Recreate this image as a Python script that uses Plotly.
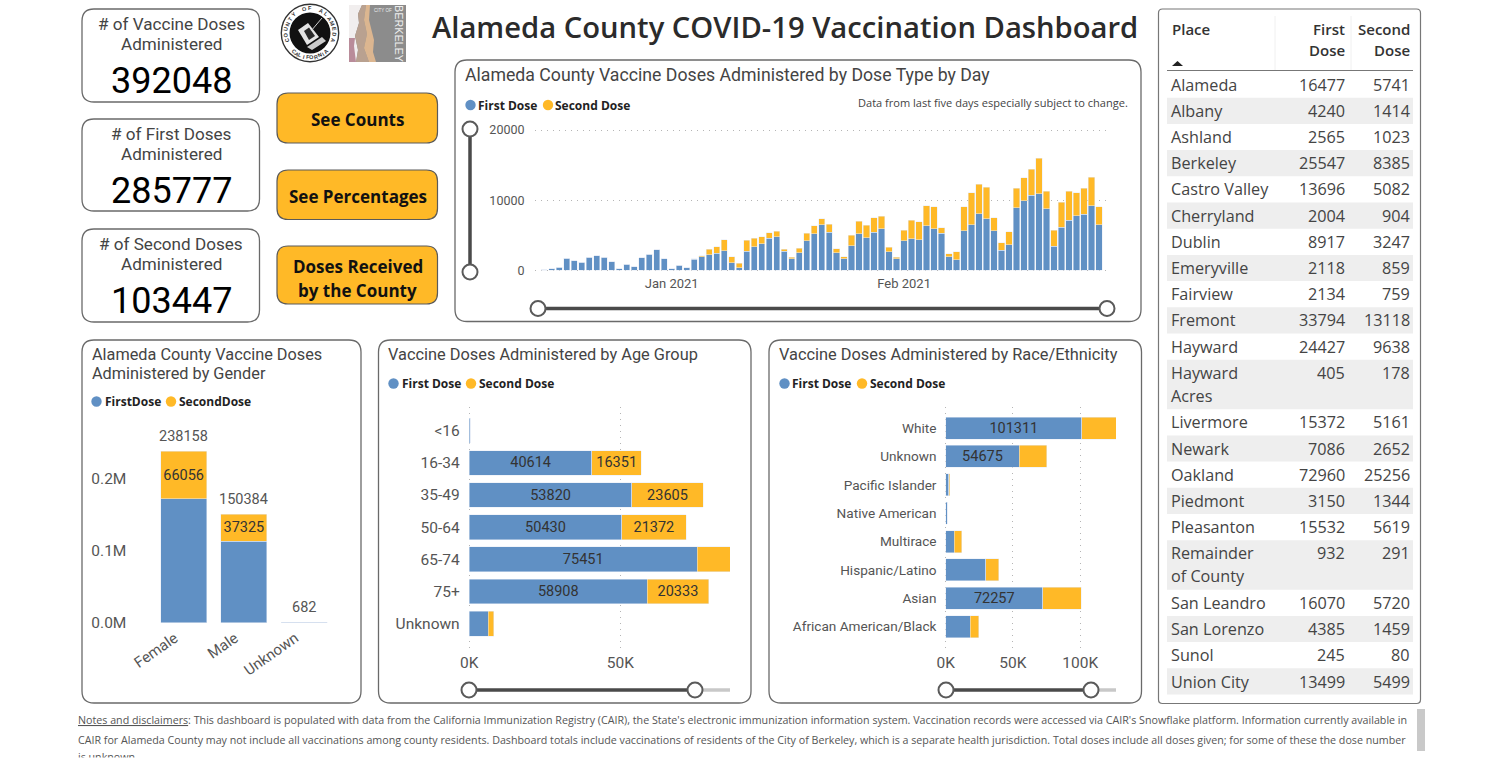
import math
import pandas as pd
import plotly.graph_objects as go

W, H = 1501, 763
BLUE, ORANGE = "#6090C4", "#FFB927"
DIN, SEGOE = "Roboto", "Open Sans"

# ---------- data ----------
kpi_titles = [("# of Vaccine Doses", "Administered"), ("# of First Doses", "Administered"), ("# of Second Doses", "Administered")]
kpi_values = ["392048", "285777", "103447"]

days = pd.date_range("2020-12-15", periods=75).strftime("%Y-%m-%d").tolist()
daily_first = [100, 190, 430, 1710, 1380, 1140, 1850, 2040, 1850, 1190,
               190, 855, 475, 1760, 2280, 2900, 1660, 190, 710, 330,
               1570, 1900, 2230, 2420, 2800, 1090, 380, 2700, 3325, 3750,
               4560, 4800, 2750, 1660, 2520, 4180, 5225, 6500, 5460, 2470,
               1660, 3470, 5225, 4655, 5460, 5940, 2660, 1660, 4230, 4465,
               4320, 6365, 5940, 5270, 1950, 1520, 5650, 6460, 8030, 7360,
               5650, 2850, 3660, 8930, 9880, 10690, 10880, 8790, 3420, 6130,
               7170, 7790, 7980, 9215, 6460]
daily_second = [0, 0, 0, 0, 0, 0, 0, 0, 0, 0,
                0, 0, 0, 0, 0, 0, 0, 0, 0, 0,
                50, 190, 760, 950, 1570, 810, 620, 1580, 1275, 1050,
                810, 760, 240, 190, 610, 1090, 1140, 815, 1095, 570,
                240, 1520, 1755, 1755, 2040, 1755, 620, 190, 1470, 2705,
                2570, 2850, 3085, 810, 425, 1090, 3375, 4560, 4270, 4515,
                1850, 1090, 1850, 2800, 3280, 3750, 5080, 2470, 2280, 3560,
                4090, 3280, 3705, 4035, 2610]

gender = ["Female", "Male", "Unknown"]
gender_first = [172102, 113059, 500]
gender_second = [66056, 37325, 182]
gender_total = [238158, 150384, 682]
gender_second_labels = ["66056", "37325", ""]

age = ["<16", "16-34", "35-49", "50-64", "65-74", "75+", "Unknown"]
age_first = [300, 40614, 53820, 50430, 75451, 58908, 6290]
age_second = [0, 16351, 23605, 21372, 11200, 20333, 1770]
age_first_labels = ["", "40614", "53820", "50430", "75451", "58908", ""]
age_second_labels = ["", "16351", "23605", "21372", "", "20333", ""]

race = ["White", "Unknown", "Pacific Islander", "Native American", "Multirace",
        "Hispanic/Latino", "Asian", "African American/Black"]
race_first = [101311, 54675, 2200, 1000, 6400, 29700, 72257, 18300]
race_second = [26200, 20300, 1000, 300, 5400, 9700, 28500, 6400]
race_first_labels = ["101311", "54675", "", "", "", "", "72257", ""]

places = ["Alameda", "Albany", "Ashland", "Berkeley", "Castro Valley", "Cherryland", "Dublin",
          "Emeryville", "Fairview", "Fremont", "Hayward", "Hayward|Acres", "Livermore", "Newark",
          "Oakland", "Piedmont", "Pleasanton", "Remainder|of County", "San Leandro", "San Lorenzo",
          "Sunol", "Union City"]
place_first = [16477, 4240, 2565, 25547, 13696, 2004, 8917, 2118, 2134, 33794, 24427, 405,
               15372, 7086, 72960, 3150, 15532, 932, 16070, 4385, 245, 13499]
place_second = [5741, 1414, 1023, 8385, 5082, 904, 3247, 859, 759, 13118, 9638, 178,
                5161, 2652, 25256, 1344, 5619, 291, 5720, 1459, 80, 5499]

notes = [
    "<u>Notes and disclaimers</u>: This dashboard is populated with data from the California Immunization Registry (CAIR), the State's electronic immunization information system. Vaccination records were accessed via CAIR's Snowflake platform. Information currently available in",
    "CAIR for Alameda County may not include all vaccinations among county residents. Dashboard totals include vaccinations of residents of the City of Berkeley, which is a separate health jurisdiction. Total doses include all doses given; for some of these the dose number",
    "is unknown.",
]

# ---------- helpers ----------
px = lambda x: x / W
py = lambda y: 1 - y / H
shapes, anns = [], []


def T(x, y, text, size=14, color="#444444", anchor="left", family=DIN, weight=None, angle=0):
    f = dict(size=size, color=color, family=family)
    if weight:
        f["weight"] = weight
    anns.append(dict(x=px(x), y=py(y), xref="paper", yref="paper", text=text, showarrow=False, font=f,
                     xanchor=anchor, yanchor="middle", align=anchor, textangle=angle,
                     borderpad=0, borderwidth=0))


def rrect(x0, y0, x1, y1, r=12, fill="white", line="#6a6a6a", lw=1.3, layer="below"):
    X, Y = px, py
    d = (f"M{X(x0+r)} {Y(y0)} L{X(x1-r)} {Y(y0)} Q{X(x1)} {Y(y0)} {X(x1)} {Y(y0+r)} "
         f"L{X(x1)} {Y(y1-r)} Q{X(x1)} {Y(y1)} {X(x1-r)} {Y(y1)} "
         f"L{X(x0+r)} {Y(y1)} Q{X(x0)} {Y(y1)} {X(x0)} {Y(y1-r)} "
         f"L{X(x0)} {Y(y0+r)} Q{X(x0)} {Y(y0)} {X(x0+r)} {Y(y0)} Z")
    shapes.append(dict(type="path", path=d, xref="paper", yref="paper", fillcolor=fill,
                       line=dict(color=line, width=lw), layer=layer))


def poly(points, fill, line=None, lw=0, layer="below"):
    d = "M" + " L".join(f"{px(a)} {py(b)}" for a, b in points) + " Z"
    shapes.append(dict(type="path", path=d, xref="paper", yref="paper", fillcolor=fill,
                       line=dict(color=line or fill, width=lw), layer=layer))


def circle(cx, cy, r, fill, line=None, lw=0, layer="above"):
    shapes.append(dict(type="circle", xref="paper", yref="paper",
                       x0=px(cx - r), x1=px(cx + r), y0=py(cy + r), y1=py(cy - r), fillcolor=fill,
                       line=dict(color=line or fill, width=lw), layer=layer))


def seg(x0, y0, x1, y1, color, lw, layer="above"):
    shapes.append(dict(type="line", xref="paper", yref="paper", x0=px(x0), x1=px(x1), y0=py(y0), y1=py(y1),
                       line=dict(color=color, width=lw), layer=layer))


def legend(y, d1, t1, d2, t2, n1="First Dose", n2="Second Dose"):
    circle(d1, y, 5.2, BLUE, layer="below")
    T(t1, y, n1, 12, "#222222", family=SEGOE, weight=700)
    circle(d2, y, 5.2, ORANGE, layer="below")
    T(t2, y, n2, 12, "#222222", family=SEGOE, weight=700)


def slider(x0, y0, x1, y1, track_end=None):
    if track_end:
        seg(x1, y1, track_end, y1, "#c8c8c8", 3.5)
    seg(x0, y0, x1, y1, "#4a4a4a", 3.5)
    circle(x0, y0, 7.5, "white", "#5a5a5a", 2)
    circle(x1, y1, 7.5, "white", "#5a5a5a", 2)


def dom_x(a, b):
    return [a / W, b / W]


def dom_y(top, bottom):
    return [1 - bottom / H, 1 - top / H]


# ---------- cards ----------
for (t1, t2), v, y0, y1 in zip(kpi_titles, kpi_values, [9, 119, 229], [102, 211, 322]):
    rrect(82, y0, 259.5, y1)
    T(171, y0 + 15, t1, 17.1, "#444444", "center")
    T(171, y0 + 35, t2, 17.1, "#444444", "center")
    T(171, y0 + 72, v, 36, "#000000", "center")

buttons = [(93, 143, ["See Counts"], 0), (170, 219.5, ["See Percentages"], 0),
           (246, 304, ["Doses Received", "by the County"], 1)]
for y0, y1, lines, dy in buttons:
    rrect(277, y0, 437.5, y1, r=11, fill=ORANGE, line="#5a5a5a", lw=1.2)
    cy = (y0 + y1) / 2 + 2 + dy
    for i, l in enumerate(lines):
        T(357.5, cy + (i - (len(lines) - 1) / 2) * 24, l, 17, "#111111", "center", SEGOE, 700)

T(432, 27, "Alameda County COVID-19 Vaccination Dashboard", 29.2, "#2b2b2b", "left", SEGOE, 600)

# ---------- county seal ----------
circle(310, 33, 28.7, "white", "#333333", 1.4, layer="below")
circle(310, 33, 20.5, "#111111", layer="below")
poly([(298, 30), (308, 23), (319, 37), (307, 45)], "#e4e4e4")
poly([(304, 31), (309, 27.5), (315, 36), (309, 40)], "#2a2a2a")
poly([(307, 47), (322, 37), (326, 41), (312, 50)], "#cccccc")
seg(311, 31, 322, 18, "#cccccc", 1, layer="below")
for txt, a0, a1 in [("COUNTY OF ALAMEDA", -108, 108), ("CALIFORNIA", 222, 138)]:
    n = len(txt)
    for i, ch in enumerate(txt):
        a = a0 + (a1 - a0) * i / (n - 1)
        xc = 310 + 24.5 * math.sin(math.radians(a))
        yc = 33 - 24.5 * math.cos(math.radians(a))
        ang = a if a1 > a0 else a - 180
        T(xc, yc, ch, 5.5, "#333333", "center", "Liberation Sans", 700, ang)

# ---------- city logo ----------
poly([(349, 5), (406, 5), (406, 62), (349, 62)], "#8c8c8c")
poly([(349, 5), (362, 5), (358, 14), (359, 23), (355, 36), (358, 50), (356, 62), (349, 62)], "#f1eeee")
poly([(349, 38), (355, 38), (354, 46), (356, 62), (349, 62)], "#b98c9a")
poly([(362, 5), (366, 5), (364, 20), (367, 34), (364, 48), (369, 62), (356, 62), (358, 50), (355, 36), (359, 23), (358, 14)], "#b9a190")
poly([(366, 5), (370, 5), (369, 20), (374, 40), (373, 52), (376, 62), (369, 62), (364, 48), (367, 34), (364, 20)], "#dcb690")
T(399.5, 33.5, "BERKELEY", 10.8, "#eeeeee", "center", "Liberation Sans", None, 90)
T(383, 10, "CITY OF", 4.5, "#eeeeee", "center", "Liberation Sans")

# ---------- panels ----------
rrect(455, 60, 1141, 321.5)
T(465, 75, "Alameda County Vaccine Doses Administered by Dose Type by Day", 17.7)
legend(105, 470.5, 478, 548, 555)
T(1128, 102, "Data from last five days especially subject to change.", 11.05, "#444444", "right", SEGOE)
slider(470, 272, 470, 129)
slider(538, 308.5, 1107, 308.5)

rrect(82, 340, 361, 703)
T(92, 354, "Alameda County Vaccine Doses", 16.3)
T(92, 373, "Administered by Gender", 16.3)
legend(401.5, 96.5, 105, 171, 179, "FirstDose", "SecondDose")

rrect(378.5, 340, 751, 703)
T(388, 354, "Vaccine Doses Administered by Age Group", 16.35)
legend(383.5, 393.5, 402, 471, 479)
slider(469, 690, 695, 690, 730)

rrect(769, 340, 1141.5, 703)
T(779, 354, "Vaccine Doses Administered by Race/Ethnicity", 16.35)
legend(383.5, 784.5, 792, 862, 869.5)
slider(946, 690, 1091, 690, 1116)

# ---------- table ----------
rrect(1158.5, 9, 1420.5, 703.5, r=4, line="#777777", lw=1.2)
TX0, TX1 = 1167, 1413
T(1172, 29, "Place", 15, "#333333", "left", SEGOE, 600)
T(1345, 29, "First", 15, "#333333", "right", SEGOE, 600)
T(1345, 50, "Dose", 15, "#333333", "right", SEGOE, 600)
T(1410, 29, "Second", 15, "#333333", "right", SEGOE, 600)
T(1410, 50, "Dose", 15, "#333333", "right", SEGOE, 600)
poly([(1172, 66), (1183, 66), (1177.5, 61)], "#222222")
seg(TX0, 70.5, TX1, 70.5, "#777777", 1.2, layer="below")
seg(1275, 16, 1275, 70, "#f0f0f0", 1, layer="below")
seg(1351, 16, 1351, 70, "#f0f0f0", 1, layer="below")

ROW, ROW2 = 26.2, 49.5
y = 71.5
for i, (pl, a, b) in enumerate(zip(places, place_first, place_second)):
    parts = pl.split("|")
    h = ROW2 if len(parts) == 2 else ROW
    if i % 2 == 1:
        poly([(TX0, y), (TX1, y), (TX1, y + h), (TX0, y + h)], "#eeeeee")
    first_line = y + 13.2
    for j, part in enumerate(parts):
        T(1171, first_line + j * 23, part, 16.2, "#444444", "left", SEGOE)
    T(1345, first_line, str(a), 16.2, "#444444", "right", SEGOE)
    T(1410, first_line, str(b), 16.2, "#444444", "right", SEGOE)
    y += h

# ---------- notes ----------
for yy, line in zip([720, 739.5, 757], notes):
    T(78, yy, line, 10.7, "#555555", "left", SEGOE)
anns.append(dict(x=px(70), y=py(763), xref="paper", yref="paper", text=" ", showarrow=False,
                 xanchor="left", yanchor="bottom", width=200, height=4, bgcolor="white", borderpad=0))
poly([(1417, 709), (1425, 709), (1425, 751), (1417, 751)], "#c9c9c9")

# ---------- gender totals, placed by the axes ----------
for g, v in zip(gender, gender_total):
    anns.append(dict(x=g, y=v, xref="x2", yref="y2", text=str(v), showarrow=False, yanchor="bottom", yshift=4,
                     font=dict(family=DIN, size=14.5, color="#555555")))

# ---------- figure ----------
fig = go.Figure()

fig.add_bar(x=days, y=daily_first, marker_color=BLUE, width=0.84 * 86400000, xaxis="x", yaxis="y", name="First Dose")
fig.add_bar(x=days, y=daily_second, marker_color=ORANGE, width=0.84 * 86400000, xaxis="x", yaxis="y", name="Second Dose")

bar_txt = dict(textposition="inside", insidetextanchor="middle", textangle=0, constraintext="none",
               insidetextfont=dict(family=DIN, size=14.5, color="#333333"))

fig.add_bar(x=gender, y=gender_first, marker_color=BLUE, width=0.763, xaxis="x2", yaxis="y2", name="FirstDose")
fig.add_bar(x=gender, y=gender_second, marker_color=ORANGE, width=0.763, xaxis="x2", yaxis="y2", name="SecondDose",
            text=gender_second_labels, **bar_txt)

fig.add_bar(y=age, x=age_first, orientation="h", marker_color=BLUE, width=0.77, xaxis="x3", yaxis="y3",
            name="First Dose", text=age_first_labels, **bar_txt)
fig.add_bar(y=age, x=age_second, orientation="h", marker_color=ORANGE, width=0.77, xaxis="x3", yaxis="y3",
            name="Second Dose", text=age_second_labels, **bar_txt)

fig.add_bar(y=race, x=race_first, orientation="h", marker_color=BLUE, width=0.775, xaxis="x4", yaxis="y4",
            name="First Dose", text=race_first_labels, **bar_txt)
fig.add_bar(y=race, x=race_second, orientation="h", marker_color=ORANGE, width=0.775, xaxis="x4", yaxis="y4",
            name="Second Dose")

GRID = dict(showgrid=True, gridcolor="#b5b5b5", griddash="1px,5px", gridwidth=1, zeroline=False, showline=False)
HIDE = dict(showgrid=False, zeroline=False, showline=False)
NOTICK = "rgba(0,0,0,0)"
LBL = lambda s, c="#555555": dict(family=DIN, size=s, color=c)
d0 = pd.Timestamp("2020-12-15")

fig.update_layout(
    width=W, height=H, autosize=False, margin=dict(l=0, r=0, t=0, b=0, pad=0, autoexpand=False),
    paper_bgcolor="white", plot_bgcolor="rgba(0,0,0,0)", barmode="stack", showlegend=False,
    shapes=shapes, annotations=anns, hovermode=False,
    xaxis=dict(domain=dom_x(535, 1108), type="date", range=[d0 - pd.Timedelta(days=1.24), d0 + pd.Timedelta(days=75.2)],
               tick0="2021-01-01", dtick="M1", tickformat="%b %Y", ticks="outside", ticklen=0, tickcolor=NOTICK,
               tickfont=LBL(13), anchor="y", **HIDE),
    yaxis=dict(domain=dom_y(128.6, 271.7), range=[-200, 20200], tickvals=[0, 10000, 20000], ticktext=["0", "10000", "20000"],
               ticks="outside", ticklen=7, tickcolor=NOTICK, tickfont=LBL(12.5), anchor="x", **GRID),
    xaxis2=dict(domain=dom_x(153.5, 334.3), type="category", categoryorder="array", categoryarray=gender, range=[-0.5, 2.5],
                tickangle=-35, ticks="outside", ticklen=0, tickcolor=NOTICK, ticklabelshift=-9, tickfont=LBL(15), anchor="y2", **HIDE),
    yaxis2=dict(domain=dom_y(442.7, 622.7), range=[0, 250000], tickvals=[0, 100000, 200000], ticktext=["0.0M", "0.1M", "0.2M"],
                ticks="outside", ticklen=23, tickcolor=NOTICK, tickfont=LBL(15.5), anchor="x2", **HIDE),
    xaxis3=dict(domain=dom_x(467.8, 730), range=[-500, 86320], tickvals=[0, 50000], ticktext=["0K", "50K"],
                ticks="outside", ticklen=0, ticklabelstandoff=-2, tickcolor=NOTICK, tickfont=LBL(15.5), anchor="y3", **GRID),
    yaxis3=dict(domain=dom_y(407, 650), type="category", categoryorder="array", categoryarray=age, range=[6.82, -0.738],
                ticks="outside", ticklen=4, tickcolor=NOTICK, tickfont=LBL(15.5), anchor="x3", **HIDE),
    xaxis4=dict(domain=dom_x(944.2, 1116), range=[-1100, 126600], tickvals=[0, 50000, 100000], ticktext=["0K", "50K", "100K"],
                ticks="outside", ticklen=0, ticklabelstandoff=-2, tickcolor=NOTICK, tickfont=LBL(15.5), anchor="y4", **GRID),
    yaxis4=dict(domain=dom_y(407, 650), type="category", categoryorder="array", categoryarray=race, range=[7.82, -0.74],
                ticks="outside", ticklen=4, tickcolor=NOTICK, tickfont=LBL(13.6), anchor="x4", **HIDE),
)

fig.write_html("out.html", config=dict(displayModeBar=False),
               post_script="document.body.style.margin='0';document.body.style.overflow='hidden';")
